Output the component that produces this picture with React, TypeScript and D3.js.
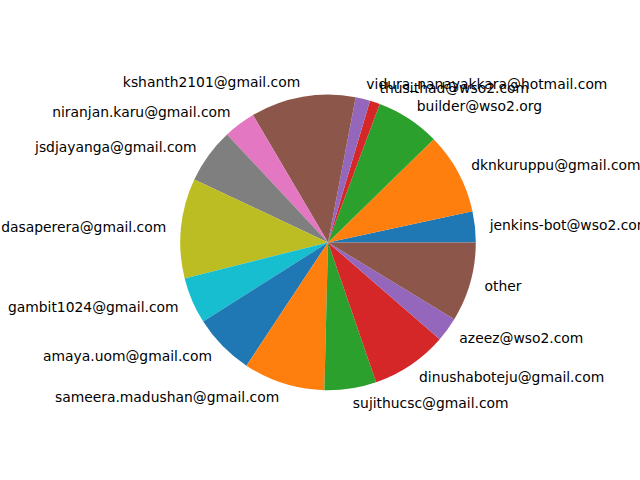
import React, { useEffect, useRef } from "react";
import * as d3 from "d3";

// contributors, counter-clockwise from 3 o'clock (matplotlib default)
const authors = [
  "jenkins-bot@wso2.com",
  "dknkuruppu@gmail.com",
  "builder@wso2.org",
  "thusithad@wso2.com",
  "vidura_nanayakkara@hotmail.com",
  "kshanth2101@gmail.com",
  "niranjan.karu@gmail.com",
  "jsdjayanga@gmail.com",
  "dasaperera@gmail.com",
  "gambit1024@gmail.com",
  "amaya.uom@gmail.com",
  "sameera.madushan@gmail.com",
  "sujithucsc@gmail.com",
  "dinushaboteju@gmail.com",
  "azeez@wso2.com",
  "other",
];
const commits = [12.2, 32.1, 25.2, 4.0, 5.7, 41.3, 12.6, 21.7, 39.3, 18.3, 24.1, 32.1, 20.4, 30.1, 9.6, 31.3];

const tab10 = ["#1f77b4", "#ff7f0e", "#2ca02c", "#d62728", "#9467bd", "#8c564b", "#e377c2", "#7f7f7f", "#bcbd22", "#17becf"];

const App = () => {
  const ref = useRef<SVGSVGElement>(null);

  useEffect(() => {
    const width = 640;
    const height = 480;
    const cx = 328;
    const cy = 242.4;
    const r = 147.8;

    const svg = d3.select(ref.current);
    svg.selectAll("*").remove();
    svg.attr("width", width).attr("height", height);

    const data = authors.map((a, i) => ({ name: a, value: commits[i], i }));
    const total = d3.sum(commits);
    const theta = d3.scaleLinear().domain([0, total]).range([0, 2 * Math.PI]);

    let acc = 0;
    const slices = data.map(d => {
      const t0 = theta(acc);
      acc += d.value;
      const t1 = theta(acc);
      return { ...d, t0, t1 };
    });

    const arc = d3.arc<any>().innerRadius(0).outerRadius(r)
      .startAngle(d => Math.PI / 2 - d.t0).endAngle(d => Math.PI / 2 - d.t1);

    const g = svg.append("g").attr("transform", `translate(${cx},${cy})`);
    g.selectAll("path").data(slices).join("path")
      .attr("d", arc).attr("fill", d => tab10[d.i % 10]);

    g.selectAll("text").data(slices).join("text")
      .attr("x", d => 1.1 * r * Math.cos((d.t0 + d.t1) / 2))
      .attr("y", d => -1.1 * r * Math.sin((d.t0 + d.t1) / 2))
      .attr("text-anchor", d => Math.cos((d.t0 + d.t1) / 2) > 0 ? "start" : "end")
      .attr("dominant-baseline", "central")
      .style("font-family", "DejaVu Sans")
      .style("font-size", "13.89px")
      .attr("fill", "#000")
      .text(d => d.name);
  }, []);

  return <svg ref={ref} style={{ position: "absolute", left: 0, top: 0, background: "#fff" }}></svg>;
};

export default App;
